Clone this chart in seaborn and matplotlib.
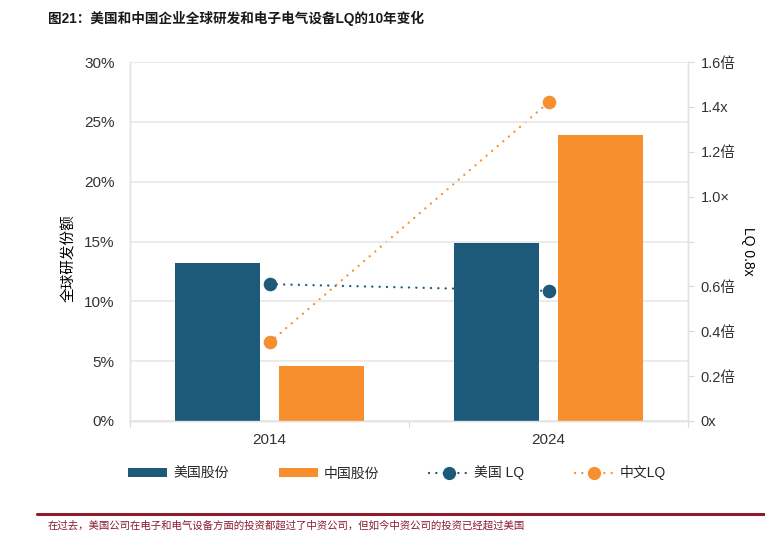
import matplotlib
matplotlib.use("Agg")
import matplotlib.pyplot as plt
from matplotlib.lines import Line2D
from matplotlib.patches import Patch
import pandas as pd
import seaborn as sns

years = ["2014", "2024"]
share_series = ["美国股份", "中国股份"]
us_share = [13.2, 14.9]
cn_share = [4.6, 23.9]
lq_series = ["美国 LQ", "中文LQ"]
us_lq = [0.61, 0.58]
cn_lq = [0.35, 1.42]

pct_ticks = [0, 5, 10, 15, 20, 25, 30]
lq_ticks = [0, 0.2, 0.4, 0.6, 0.8, 1.0, 1.2, 1.4, 1.6]
lq_tick_labels = ["0x", "0.2倍", "0.4倍", "0.6倍", "", "1.0×", "1.2倍", "1.4x", "1.6倍"]

title = "图21：美国和中国企业全球研发和电子电气设备LQ的10年变化"
footnote = "在过去，美国公司在电子和电气设备方面的投资都超过了中资公司，但如今中资公司的投资已经超过美国"

NAVY = "#1d5a7a"
ORANGE = "#f78f2e"
GRID = "#e6e6e6"
TXT = "#333333"
DARKRED = "#8a1c2e"
DOTS = (0.01, 3.1)

share_df = pd.DataFrame({
    "year": years * 2,
    "series": [share_series[0]] * 2 + [share_series[1]] * 2,
    "share": us_share + cn_share,
})
lq_df = pd.DataFrame({
    "year": years * 2,
    "series": [lq_series[0]] * 2 + [lq_series[1]] * 2,
    "lq": us_lq + cn_lq,
})

sns.set_theme(style="white")
plt.rcParams["font.family"] = ["Liberation Sans", "Noto Sans CJK SC", "DejaVu Sans"]

fig = plt.figure(figsize=(7.65, 5.33), dpi=100)
ax_lq = fig.add_axes([130 / 765, 112 / 533, 558 / 765, 359 / 533])
ax_bar = ax_lq.twinx()

# lines first (they sit behind the bars)
sns.pointplot(
    data=lq_df, x="year", y="lq", hue="series", order=years,
    hue_order=lq_series, palette=[NAVY, ORANGE], markers="o",
    linestyles=":", errorbar=None, legend=False, ax=ax_lq,
    markersize=8.5, linewidth=1.7,
)
for ln in ax_lq.lines:
    ln.set_dashes(DOTS)
    ln.set_dash_capstyle("round")

sns.barplot(
    data=share_df, x="year", y="share", hue="series", order=years,
    hue_order=share_series, palette=[NAVY, ORANGE], width=0.745, gap=0.175,
    saturation=1, errorbar=None, legend=False, linewidth=0, ax=ax_bar,
)

# percent axis on the left
ax_bar.yaxis.tick_left()
ax_bar.yaxis.set_label_position("left")
ax_bar.set_ylim(0, 30)
ax_bar.set_yticks(pct_ticks)
ax_bar.set_yticklabels([f"{t}%" for t in pct_ticks])
ax_bar.tick_params(axis="y", length=0, pad=11, labelsize=11, labelcolor=TXT)
ax_bar.set_ylabel("全球研发份额", fontsize=10.5, color="black")
ax_bar.yaxis.set_label_coords(-0.097, 0.454)
ax_bar.grid(axis="y", color=GRID, linewidth=1.1)
ax_bar.set_axisbelow(True)

# LQ axis on the right
ax_lq.yaxis.tick_right()
ax_lq.yaxis.set_label_position("right")
ax_lq.set_ylim(0, 1.6)
ax_lq.set_yticks(lq_ticks)
ax_lq.set_yticklabels(lq_tick_labels)
ax_lq.tick_params(axis="y", length=4, width=0.8, color="#d9d9d9", pad=5,
                  labelsize=10.5, labelcolor=TXT)
ax_lq.set_ylabel("LQ 0.8x", rotation=270, fontsize=10, color="black", va="center")
ax_lq.yaxis.set_label_coords(1.108, 0.474)
ax_lq.grid(False)

# x axis: labels at category centres, tick marks at the boundaries
for ax in (ax_lq, ax_bar):
    ax.set_xlim(-0.5, 1.5)
    ax.set_xlabel("")
ax_lq.set_xticks([0, 1])
ax_lq.set_xticklabels(years)
ax_lq.set_xticks([-0.5, 0.5, 1.5], minor=True)
ax_lq.tick_params(axis="x", which="major", length=0, pad=9, labelsize=11, labelcolor=TXT)
ax_lq.tick_params(axis="x", which="minor", length=4, width=0.8, color="#d9d9d9", bottom=True)
ax_bar.tick_params(axis="x", which="both", length=0, labelbottom=False)

for ax in (ax_lq, ax_bar):
    for side, sp in ax.spines.items():
        sp.set_color("#e3e3e3")
        sp.set_linewidth(1.0)
    ax.spines["top"].set_visible(False)

fig.text(48 / 765, 1 - 18 / 533, title, fontsize=9.8, fontweight="bold",
         va="center", ha="left", color="#1a1a1a")

handles = [
    Patch(facecolor=NAVY, edgecolor="none"),
    Patch(facecolor=ORANGE, edgecolor="none"),
    Line2D([], [], color=NAVY, linestyle=(0, DOTS), linewidth=1.7,
           marker="o", markersize=8.5, dash_capstyle="round"),
    Line2D([], [], color=ORANGE, linestyle=(0, DOTS), linewidth=1.7,
           marker="o", markersize=8.5, dash_capstyle="round"),
]
fig.legend(handles, share_series + lq_series, ncol=4, loc="center",
           bbox_to_anchor=(397 / 765, 1 - 473 / 533), frameon=False,
           fontsize=10, handlelength=2.8, handleheight=0.6, columnspacing=3.6,
           handletextpad=0.45)

fig.add_artist(Line2D([37 / 765, 1.0], [1 - 514 / 533] * 2, color=DARKRED,
                      linewidth=2.2, transform=fig.transFigure))
fig.text(48 / 765, 1 - 526 / 533, footnote, fontsize=7.5, color=DARKRED,
         va="center", ha="left")

fig.savefig("out.png", dpi=100)
plt.close(fig)
